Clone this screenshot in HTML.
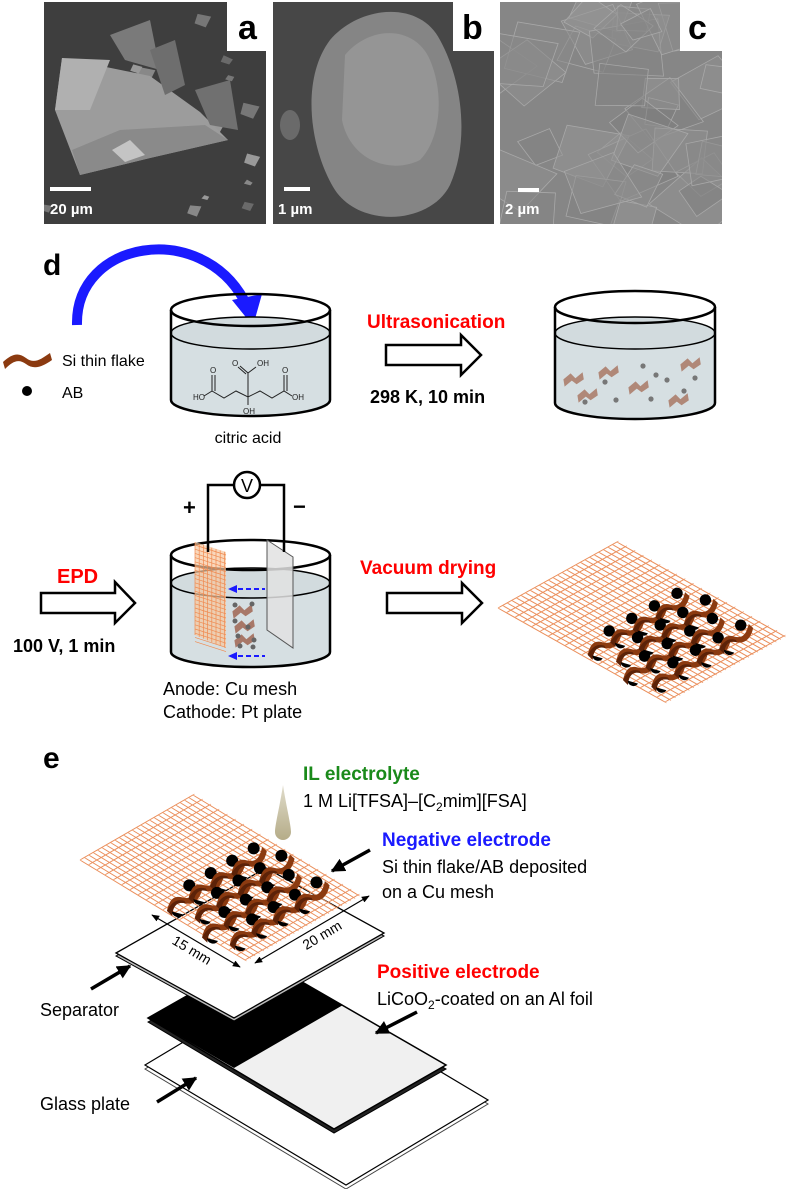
<!DOCTYPE html>
<html><head><meta charset="utf-8">
<style>
html,body{margin:0;padding:0;background:#fff;}
svg{display:block;font-family:"Liberation Sans",Arial,sans-serif;}
</style></head>
<body>
<svg id="s" width="787" height="1189" viewBox="0 0 787 1189" xmlns="http://www.w3.org/2000/svg">
<defs>
<marker id="bk" viewBox="0 0 10 10" markerWidth="14" markerHeight="14" refX="9" refY="5" orient="auto" markerUnits="userSpaceOnUse"><path d="M0,0 L10,5 L0,10 Z" fill="#000"/></marker>
<marker id="da" viewBox="0 0 10 10" markerWidth="8" markerHeight="8" refX="9" refY="5" orient="auto-start-reverse" markerUnits="userSpaceOnUse"><path d="M0,1 L10,5 L0,9 Z" fill="#000"/></marker>
<linearGradient id="drop" x1="0" y1="0" x2="0" y2="1"><stop offset="0" stop-color="#e0dccb"/><stop offset="1" stop-color="#b5ac88"/></linearGradient>
<clipPath id="ca"><path d="M44,2 H227 V51 H266 V224 H44 Z"/></clipPath>
<clipPath id="cb"><path d="M273,2 H453 V51 H494 V224 H273 Z"/></clipPath>
<clipPath id="cc"><path d="M500,2 H680 V51 H722 V224 H500 Z"/></clipPath>
</defs>

<!-- SEM panels -->
<g clip-path="url(#ca)">
<rect x="44" y="2" width="222" height="222" fill="#3e3e3e"/>
<g id="deba"></g>
<polygon points="62,58 150,76 200,112 228,140 150,158 80,175 55,110" fill="#9c9c9c"/>
<polygon points="80,175 150,158 228,140 205,125 120,130 72,150" fill="#8a8a8a"/>
<polygon points="62,58 110,60 90,110 55,110" fill="#b0b0b0"/>
<polygon points="112,150 130,140 145,155 125,162" fill="#c4c4c4"/>
<polygon points="110,35 150,20 160,70 125,60" fill="#7a7a7a"/>
<polygon points="150,50 175,40 185,85 165,95" fill="#6e6e6e"/>
<polygon points="195,90 230,80 238,130 210,125" fill="#707070"/>
</g>
<g clip-path="url(#cb)">
<rect x="273" y="2" width="221" height="222" fill="#474747"/>
<path d="M330,40 C360,5 420,0 440,40 C462,80 470,140 450,185 C430,225 360,228 335,190 C310,150 300,80 330,40 Z" fill="#858585"/>
<path d="M345,55 C370,25 415,25 430,60 C445,95 440,140 420,160 C390,175 350,160 342,120 Z" fill="#959595"/>
<ellipse cx="290" cy="125" rx="10" ry="15" fill="#6a6a6a"/>
</g>
<g clip-path="url(#cc)">
<rect x="500" y="2" width="222" height="222" fill="#868686"/>
<g id="flc"></g>
</g>
<g font-weight="bold">
<text x="238" y="39" font-size="34" fill="#000">a</text>
<text x="462" y="39" font-size="34" fill="#000">b</text>
<text x="688" y="39" font-size="34" fill="#000">c</text>
<rect x="50" y="187" width="41" height="4" fill="#fff"/>
<text x="50" y="214" font-size="15" fill="#fff">20 µm</text>
<rect x="284" y="187" width="26" height="4" fill="#fff"/>
<text x="278" y="214" font-size="15" fill="#fff">1 µm</text>
<rect x="518" y="188" width="21" height="4" fill="#fff"/>
<text x="505" y="214" font-size="15" fill="#fff">2 µm</text>
</g>

<!-- d -->
<text x="43" y="275" font-size="30" font-weight="bold">d</text>
<path d="M77,325 C75,240 200,220 244,300" fill="none" stroke="#1a1aff" stroke-width="10"/>
<polygon points="232,300 262,294 253,326" fill="#1a1aff"/>

<!-- legend -->
<path d="M3,362 C12,354 18,352 26,358 C34,364 40,360 50,353 L52,360 C42,367 34,370 26,364 C18,358 12,362 5,369 Z" fill="#8b3a10"/>
<text x="62" y="366" font-size="16">Si thin flake</text>
<circle cx="27" cy="391" r="5" fill="#000"/>
<text x="62" y="398" font-size="16">AB</text>

<g id="beakers"></g>

<!-- citric acid structure -->
<g stroke="#222" stroke-width="1" fill="none">
<path d="M204,396 L212,391 L212,375 M215,391 L215,375 M212,391 L224,398 L236,391 L248,397 L260,391 L272,398 L284,391 L292,396 M284,391 L284,375 M287,391 L287,375 M248,397 L248,405 M248,397 L248,373 L240,366 M246,374 L238,367 M248,373 L256,367"/>
</g>
<g font-size="8" fill="#222">
<text x="193" y="400">HO</text><text x="292" y="400">OH</text>
<text x="210" y="373">O</text><text x="282" y="373">O</text>
<text x="232" y="366">O</text><text x="257" y="366">OH</text>
<text x="243" y="414">OH</text>
</g>
<text x="248" y="443" font-size="16" text-anchor="middle">citric acid</text>

<polygon points="386,345 461,345 461,335 481,355 461,375 461,365 386,365" fill="#fff" stroke="#000" stroke-width="2.5"/>
<text x="367" y="328" font-size="19" font-weight="bold" fill="#ff0000">Ultrasonication</text>
<text x="370" y="403" font-size="18" font-weight="bold">298 K, 10 min</text>

<!-- EPD row -->
<text x="57" y="583" font-size="20" font-weight="bold" fill="#ff0000">EPD</text>
<polygon points="41,593 115,593 115,582 135,603 115,623 115,613 41,613" fill="#fff" stroke="#000" stroke-width="2.5"/>
<text x="13" y="652" font-size="18" font-weight="bold">100 V, 1 min</text>
<g stroke="#000" stroke-width="2.5" fill="none">
<path d="M208,552 V485 H234 M260,485 H284 V552"/>
<circle cx="247" cy="485" r="13" fill="#fff"/>
</g>
<text x="247" y="492" font-size="18" text-anchor="middle">V</text>
<text x="183" y="515" font-size="22" font-weight="bold">+</text>
<text x="293" y="514" font-size="22" font-weight="bold">−</text>

<text x="163" y="695" font-size="18">Anode: Cu mesh</text>
<text x="163" y="718" font-size="18">Cathode: Pt plate</text>

<polygon points="387,593 462,593 462,583 482,603 462,623 462,613 387,613" fill="#fff" stroke="#000" stroke-width="2.5"/>
<text x="360" y="574" font-size="19" font-weight="bold" fill="#ff0000">Vacuum drying</text>

<g id="mesh2"></g>

<!-- e -->
<text x="43" y="768" font-size="30" font-weight="bold">e</text>
<text x="303" y="780" font-size="19" font-weight="bold" fill="#1a8a1a">IL electrolyte</text>
<text x="303" y="807" font-size="18">1 M Li[TFSA]–[C<tspan font-size="12" dy="4">2</tspan><tspan dy="-4">mim][FSA]</tspan></text>
<path d="M283,785 C286,805 291,825 291,832 A8,8 0 0 1 275,832 C275,825 280,805 283,785 Z" fill="url(#drop)"/>
<text x="382" y="846" font-size="19" font-weight="bold" fill="#1a1aff">Negative electrode</text>
<text x="382" y="873" font-size="18">Si thin flake/AB deposited</text>
<text x="382" y="898" font-size="18">on a Cu mesh</text>
<text x="377" y="978" font-size="19" font-weight="bold" fill="#ff0000">Positive electrode</text>
<text x="377" y="1005" font-size="18">LiCoO<tspan font-size="12" dy="4">2</tspan><tspan dy="-4">-coated on an Al foil</tspan></text>
<text x="40" y="1016" font-size="18">Separator</text>
<text x="40" y="1110" font-size="18">Glass plate</text>

<!-- glass -->
<polygon points="145,1069 287,984 488,1104 346,1189" fill="#fff" stroke="#444" stroke-width="1"/>
<polygon points="145,1065 287,980 488,1100 346,1185" fill="#fff" stroke="#000" stroke-width="1.2"/>
<!-- positive electrode -->
<polygon points="148,1022 257,960 446,1069 334,1133" fill="#222" stroke="#000" stroke-width="1"/>
<polygon points="148,1018 257,956 446,1065 334,1129" fill="#f0f0f0" stroke="#000" stroke-width="1.5"/>
<polygon points="148,1018 257,956 343,1005 234,1068" fill="#000"/>
<!-- separator -->
<polygon points="116,956 266,871 384,936 234,1021" fill="#bbb" stroke="#000" stroke-width="1"/>
<polygon points="116,953 266,868 384,933 234,1018" fill="#fff" stroke="#000" stroke-width="1.3"/>

<g id="mesh1"></g>

<g stroke="#000" stroke-width="1.2" fill="none">
<line x1="152" y1="915" x2="240" y2="967" marker-start="url(#da)" marker-end="url(#da)"/>
<line x1="255" y1="963" x2="369" y2="896" marker-start="url(#da)" marker-end="url(#da)"/>
</g>
<text x="192" y="955" font-size="14" text-anchor="middle" transform="rotate(31 192 950)">15 mm</text>
<text x="322" y="940" font-size="14" text-anchor="middle" transform="rotate(-31 322 935)">20 mm</text>

<g stroke="#000" stroke-width="3.5" fill="none">
<line x1="370" y1="850" x2="332" y2="871" marker-end="url(#bk)"/>
<line x1="91" y1="989" x2="130" y2="966" marker-end="url(#bk)"/>
<line x1="417" y1="1012" x2="376" y2="1033" marker-end="url(#bk)"/>
<line x1="157" y1="1102" x2="196" y2="1078" marker-end="url(#bk)"/>
</g>
</svg>
<script>
(function(){
var NS="http://www.w3.org/2000/svg";
function el(p,t,a){var e=document.createElementNS(NS,t);for(var k in a)e.setAttribute(k,a[k]);p.appendChild(e);return e;}
var R=(function(){var s=7;return function(){s=(s*16807)%2147483647;return s/2147483647;};})();
var g=document.getElementById('deba');
for(var i=0;i<18;i++){var x=44+R()*220,y=2+R()*220,w=4+R()*14;el(g,'polygon',{points:x+','+y+' '+(x+w)+','+(y+R()*6)+' '+(x+w*0.6)+','+(y+w)+' '+(x-3)+','+(y+w*0.7),fill:'#'+(['777','888','999','6a6a6a'][i%4])});}
g=document.getElementById('flc');
for(var i=0;i<40;i++){var x=495+R()*230,y=-5+R()*235,w=20+R()*30,a=R()*6.28;var pts=[];for(var k=0;k<4;k++){var an=a+k*1.57+R()*0.5;pts.push((x+Math.cos(an)*w)+','+(y+Math.sin(an)*w*0.8));}
var c=125+Math.floor(R()*25);el(g,'polygon',{points:pts.join(' '),fill:'rgb('+c+','+c+','+c+')',stroke:'#a8a8a8','stroke-width':0.8,'fill-opacity':0.5});}
var b=document.getElementById('beakers');
function beaker(x0,x1,yt,yl,yb,ry){var cx=(x0+x1)/2,rx=(x1-x0)/2;
el(b,'path',{d:'M'+x0+','+yl+' A'+rx+','+ry+' 0 0 1 '+x1+','+yl+' V'+yb+' A'+rx+','+ry+' 0 0 1 '+x0+','+yb+' Z',fill:'#d6dfe2'});
el(b,'ellipse',{cx:cx,cy:yl,rx:rx,ry:ry,fill:'#d2dbde',stroke:'#000','stroke-width':1.5});
el(b,'path',{d:'M'+x0+','+yt+' V'+yb+' A'+rx+','+ry+' 0 0 0 '+x1+','+yb+' V'+yt,fill:'none',stroke:'#000','stroke-width':2.5});
el(b,'ellipse',{cx:cx,cy:yt,rx:rx,ry:ry,fill:'none',stroke:'#000','stroke-width':2.5});}
beaker(171,330,310,333,400,16);
beaker(555,715,307,333,403,16);
beaker(171,330,555,583,652,15);
function fl(p,x,y,s,col){el(p,'path',{d:'M'+(x-8*s)+','+(y+2*s)+' L'+(x-2*s)+','+(y-3*s)+' L'+(x+2*s)+','+(y+1*s)+' L'+(x+8*s)+','+(y-4*s)+' L'+(x+9*s)+','+(y+2*s)+' L'+(x+3*s)+','+(y+6*s)+' L'+(x-1*s)+','+(y+3*s)+' L'+(x-7*s)+','+(y+8*s)+' Z',fill:col});}
[[573,377],[608,370],[638,385],[690,362],[587,393],[678,398]].forEach(function(p){fl(b,p[0],p[1],1.2,'#b08878');});
[[643,366],[605,382],[656,375],[667,380],[695,378],[684,391],[616,400],[585,402],[651,399]].forEach(function(p){el(b,'circle',{cx:p[0],cy:p[1],r:2.6,fill:'#777'});});
var m=el(b,'g',{});
el(m,'polygon',{points:'195,542 226,552 226,648 195,635',fill:'#f7c8a0','fill-opacity':0.7});
for(var i=0;i<8;i++){var xx=195+i*4.2;el(m,'line',{x1:xx,y1:542+i*1.4,x2:xx,y2:635+i*1.8,stroke:'#f08a50','stroke-width':0.7});}
for(var j=0;j<24;j++){var yy=545+j*4.2;el(m,'line',{x1:195,y1:yy,x2:226,y2:yy+10,stroke:'#f08a50','stroke-width':0.7});}
el(m,'polygon',{points:'267,540 293,557 293,648 267,630',fill:'#e2e2e2','fill-opacity':0.85,stroke:'#555','stroke-width':1});
[[242,609],[244,624],[244,638]].forEach(function(p){fl(m,p[0],p[1],1.2,'#a87868');});
[[235,605],[252,604],[235,621],[248,627],[238,636],[254,640],[240,646],[253,647]].forEach(function(p){el(m,'circle',{cx:p[0],cy:p[1],r:2.5,fill:'#666'});});
[[589],[656]].forEach(function(p){var y=p[0];el(m,'line',{x1:238,y1:y,x2:265,y2:y,stroke:'#1a1aff','stroke-width':2,'stroke-dasharray':'5,3'});el(m,'polygon',{points:'228,'+y+' 237,'+(y-4)+' 237,'+(y+4),fill:'#1a1aff'});});
function mesh(id,L,T,B,nu,nv,sc){var p=document.getElementById(id);
var U=[T[0]-L[0],T[1]-L[1]],V=[B[0]-L[0],B[1]-L[1]];
function P(u,v){return [L[0]+u*U[0]+v*V[0],L[1]+u*U[1]+v*V[1]];}
for(var i=0;i<=nu;i++){var u=i/nu;var a=P(u,0),c=P(u,1);
 el(p,'line',{x1:a[0],y1:a[1],x2:c[0],y2:c[1],stroke:'#f0a070','stroke-width':1});
 el(p,'line',{x1:a[0]+1.5,y1:a[1]+1,x2:c[0]+1.5,y2:c[1]+1,stroke:'#e88a58','stroke-width':0.6});}
for(var j=0;j<=nv;j++){var v=j/nv;var a=P(0,v),c=P(1,v);
 el(p,'line',{x1:a[0],y1:a[1],x2:c[0],y2:c[1],stroke:'#f0a070','stroke-width':1});
 el(p,'line',{x1:a[0]+1.5,y1:a[1]-1,x2:c[0]+1.5,y2:c[1]-1,stroke:'#e88a58','stroke-width':0.6});}
var ang=Math.atan2(U[1],U[0])*180/Math.PI;
for(var r=0;r<4;r++){var v=0.5+r*0.12;
 for(var k=0;k<4;k++){var u=0.18+k*0.19+(r%2)*0.09-r*0.02;if(u>0.9)continue;
  var c=P(u,v);var gg=el(p,'g',{transform:'translate('+c[0]+','+c[1]+') rotate('+ang+') scale('+sc+')'});
  el(gg,'path',{d:'M-20,3 C-12,-6 -6,-7 0,-1 C6,5 12,4 20,-5 L22,1 C14,10 6,11 0,6 C-6,0 -12,1 -18,10 Z',fill:'#8b3a10'});
  el(gg,'path',{d:'M-18,10 C-12,1 -6,0 0,6 L0,3 C-6,-3 -12,-2 -20,3 Z',fill:'#5c2208'});
  el(gg,'circle',{cx:12,cy:-8,r:6,fill:'#000'});
  el(gg,'path',{d:'M-16,6 A6,6 0 0 0 -8,14 Z',fill:'#000'});
 }}
}
mesh('mesh2',[498,608],[617,542],[665,702],26,20,0.95);
mesh('mesh1',[80,860],[193,795],[245,960],26,20,1.0);
})();
</script>
</body></html>
